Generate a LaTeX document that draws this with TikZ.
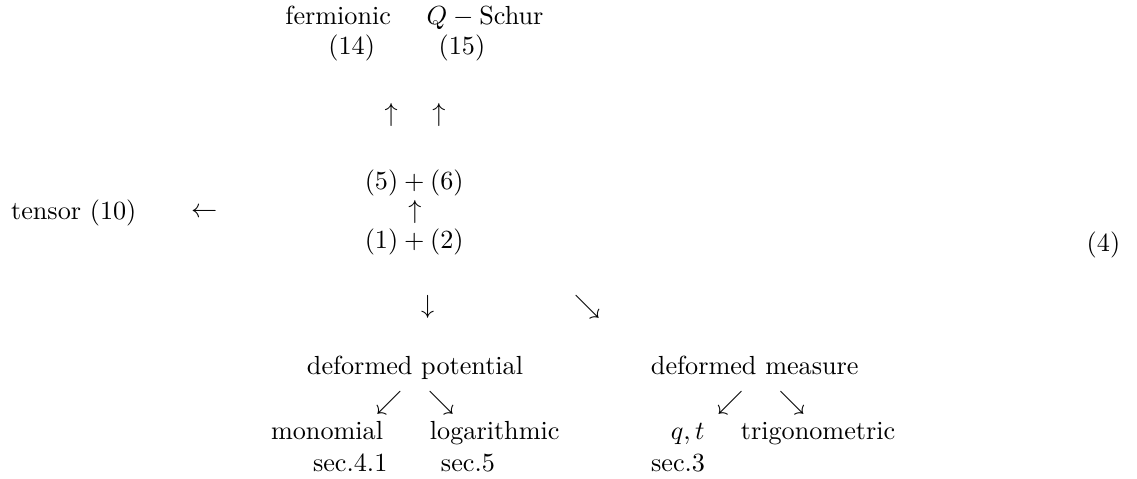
\documentclass[tikz,border=0pt]{standalone}
\usepackage{amsmath}
\usepackage{amssymb}
\usepackage{tikz}
\usetikzlibrary{positioning, calc}

\begin{document}
\begin{tikzpicture}[scale=1.0,
    lbl/.style={inner sep=0pt, text height=1.6ex, text depth=.45ex},
    arr/.style={inner sep=0pt}]
    \useasboundingbox (0,0) rectangle (15.26,-6.42);
    \begin{scope}
    % top row
    \node[lbl] (ferm) at (4.54,-0.24) {fermionic};
    \node[lbl] (qschur) at (6.51,-0.24) {$Q-\text{Schur}$};
    \node[lbl] (eqf) at (4.72,-0.64) {(14)};
    \node[lbl] (eqq) at (6.20,-0.64) {(15)};
    \node[arr] (upf) at (5.25,-1.54) {$\uparrow$};
    \node[arr] (upq) at (5.89,-1.54) {$\uparrow$};
    % middle
    \node[lbl] (tensor) at (0.99,-2.86) {tensor (10)};
    \node[arr] (left) at (2.74,-2.86) {$\leftarrow$};
    \node[lbl] (fivesix) at (5.56,-2.46) {$(5)+(6)$};
    \node[arr] (upmid) at (5.57,-2.85) {$\uparrow$};
    \node[lbl] (onetwo) at (5.56,-3.25) {$(1)+(2)$};
    \node[lbl] (eqno) at (14.81,-3.29) {(4)};
    \node[arr] (down) at (5.74,-4.12) {$\downarrow$};
    \node[arr] (diag) at (7.88,-4.12) {$\searrow$};
    % deformations
    \node[lbl] (pot) at (5.57,-4.94) {deformed potential};
    \node[lbl] (meas) at (10.13,-4.94) {deformed measure};
    \node[arr] (potsw) at (5.22,-5.41) {$\swarrow$};
    \node[arr] (potse) at (5.92,-5.41) {$\searrow$};
    \node[arr] (meassw) at (9.80,-5.41) {$\swarrow$};
    \node[arr] (measse) at (10.63,-5.41) {$\searrow$};
    \node[lbl] (mono) at (4.39,-5.81) {monomial};
    \node[lbl] (log) at (6.64,-5.81) {logarithmic};
    \node[lbl] (qt) at (9.23,-5.81) {$q,t$};
    \node[lbl] (trig) at (10.98,-5.81) {trigonometric};
    \node[lbl] (secmono) at (4.70,-6.24) {sec.4.1};
    \node[lbl] (seclog) at (6.28,-6.24) {sec.5};
    \node[lbl] (secqt) at (9.10,-6.24) {sec.3};
    \end{scope}
\end{tikzpicture}
\end{document}
